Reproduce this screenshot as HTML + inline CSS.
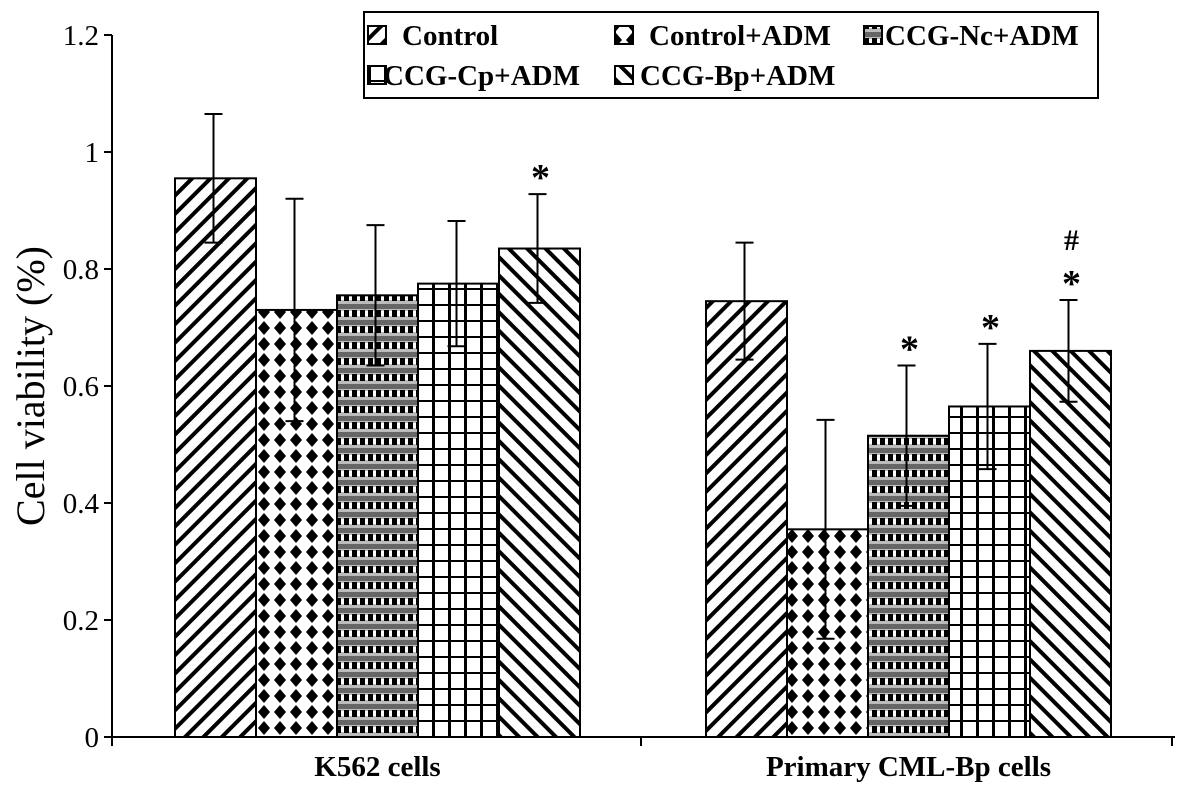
<!DOCTYPE html>
<html><head><meta charset="utf-8"><style>
body{margin:0;background:#fff;}
svg{display:block;font-family:"Liberation Serif",serif;}
</style></head><body>
<svg id="chart" width="1188" height="787" viewBox="0 0 1188 787">
<defs>
<pattern id="p0" patternUnits="userSpaceOnUse" width="13" height="13" patternTransform="rotate(45)"><rect width="13" height="13" fill="#fff"/><rect x="0" y="0" width="4" height="13" fill="#000"/></pattern>
<pattern id="p1" patternUnits="userSpaceOnUse" width="16" height="16"><rect width="16" height="16" fill="#fff"/><polygon points="8,1 14,8 8,15 2,8" fill="#000"/></pattern>
<pattern id="p2" patternUnits="userSpaceOnUse" width="16" height="16"><rect width="16" height="16" fill="#bbb"/><rect x="0" y="0" width="16" height="5" fill="#666"/><rect x="0" y="6" width="5" height="7" fill="#000"/><rect x="8" y="6" width="5" height="7" fill="#000"/><rect x="5" y="7" width="3" height="5" fill="#fff"/><rect x="13" y="7" width="3" height="5" fill="#fff"/></pattern>
<pattern id="p3" patternUnits="userSpaceOnUse" width="16" height="16"><rect width="16" height="16" fill="#fff"/><rect x="0" y="0" width="3" height="16" fill="#000"/><rect x="0" y="0" width="16" height="2" fill="#000"/></pattern>
<pattern id="p4" patternUnits="userSpaceOnUse" width="13" height="13" patternTransform="rotate(-45)"><rect width="13" height="13" fill="#fff"/><rect x="0" y="0" width="4" height="13" fill="#000"/></pattern>
</defs>
<g id="plot"></g>
<text transform="translate(44,386) rotate(-90)" text-anchor="middle" font-size="40">Cell viability (%)</text>
<g>
<rect x="364" y="12" width="734" height="86" fill="#fff" stroke="#000" stroke-width="2"/>
</g>
</svg>
<script>
const categories = ["K562 cells", "Primary CML-Bp cells"];
const seriesNames = ["Control", "Control+ADM", "CCG-Nc+ADM", "CCG-Cp+ADM", "CCG-Bp+ADM"];
const k562Values = [0.955, 0.73, 0.755, 0.775, 0.835];
const k562Errors = [0.11, 0.19, 0.12, 0.107, 0.093];
const primaryValues = [0.745, 0.355, 0.515, 0.565, 0.66];
const primaryErrors = [0.10, 0.187, 0.12, 0.107, 0.087];
const k562Marks = ["", "", "", "", "*"];
const primaryMarks = ["", "", "*", "*", "#*"];
const yTicks = [0, 0.2, 0.4, 0.6, 0.8, 1, 1.2];
const yTickLabels = ["0", "0.2", "0.4", "0.6", "0.8", "1", "1.2"];

const NS = "http://www.w3.org/2000/svg";
const svg = document.getElementById("chart");
const plot = document.getElementById("plot");
function y(v){ return 737 - v * (702/1.2); }
const groupStart = [175, 706];
const barW = 81;
function x(g, s){ return groupStart[g] + s * barW; }
function mk(tag, attrs, parent){ const e = document.createElementNS(NS, tag); for (const k in attrs) e.setAttribute(k, attrs[k]); (parent||plot).appendChild(e); return e; }

const vals = [k562Values, primaryValues];
const errs = [k562Errors, primaryErrors];
const marks = [k562Marks, primaryMarks];
for (let g = 0; g < 2; g++) {
  for (let s = 0; s < 5; s++) {
    const v = vals[g][s];
    const r = mk("rect", {x: x(g,s), y: y(v), width: barW, height: 737 - y(v), fill: "url(#p"+s+")", stroke: "#000", "stroke-width": 2});
    
    
    const cx = x(g,s) + barW/2 - 2;
    const e = errs[g][s];
    const eb = mk("path", {d: `M${cx},${y(v-e)}V${y(v+e)}M${cx-9},${y(v+e)}H${cx+9}M${cx-9},${y(v-e)}H${cx+9}`, stroke: "#000", "stroke-width": 2, fill: "none"});
    
    
    const m = marks[g][s];
    if (m) {
      const chars = m.split("");
      chars.forEach((c, i) => {
        const t = mk("text", {x: cx + 3, y: y(v+e) - (c==="*" ? -8 + 12 : 50), "text-anchor": "middle", "font-size": c==="*"?38:30, "font-weight": "bold"});
        t.textContent = c;
        
        
      });
    }
  }
}
const ax = mk("path", {d: "M112,35V737H1175M112,737v9M641,737v9M1172,737v9", stroke: "#000", "stroke-width": 2, fill: "none"});


yTicks.forEach((t, i) => {
  const tk = mk("path", {d: `M104,${y(t)}H112`, stroke: "#000", "stroke-width": 2});
  
  
  const lb = mk("text", {x: 99, y: y(t) + 10, "text-anchor": "end", "font-size": 29});
  lb.textContent = yTickLabels[i];
  
  
});
categories.forEach((c, g) => {
  const lb = mk("text", {x: groupStart[g] + barW*2.5, y: 776, "text-anchor": "middle", "font-size": 29, "font-weight": "bold"});
  lb.textContent = c;
  
  
});
const legPos = [[368,36,402],[615,36,649],[864,36,885],[368,76,383],[615,76,640]];
seriesNames.forEach((n, s) => {
  const [lx, ly, tx] = legPos[s];
  const sw = mk("rect", {x: lx, y: ly - 10, width: 18, height: 18, fill: "url(#p"+s+")", stroke: "#000", "stroke-width": 2}, svg);
  
  
  const t = mk("text", {x: tx, y: ly + 9, "font-size": 29, "font-weight": "bold"}, svg);
  t.textContent = n;
  
  
});
</script>
</body></html>
